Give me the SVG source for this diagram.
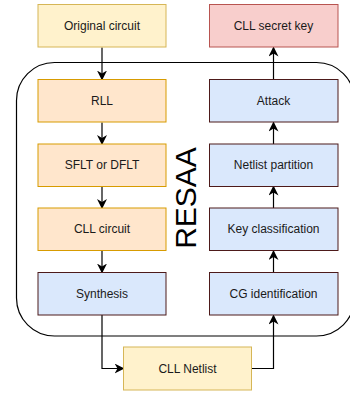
<svg xmlns="http://www.w3.org/2000/svg" width="350" height="394" viewBox="0 0 350 394">
  <defs>
    <marker id="arrow" viewBox="0 0 10 10" refX="9" refY="5" markerWidth="10" markerHeight="10" markerUnits="userSpaceOnUse" orient="auto">
      <path d="M0,0 L10,5 L0,10 L3,5 Z" fill="#000"/>
    </marker>
    <style>
      .lbl { font-family: "Liberation Sans", Arial, Helvetica, sans-serif; font-size: 12px; fill: #1a1a1a; text-anchor: middle; dominant-baseline: central; }
      .yellow { fill: #fff2cc; stroke: #d6b656; stroke-width: 1; }
      .orange { fill: #ffe6cc; stroke: #d79b00; stroke-width: 1; }
      .blue { fill: #dae8fc; stroke: #4d1a1a; stroke-width: 1; }
      .red { fill: #f8cecc; stroke: #b85450; stroke-width: 1; }
      .edge { fill: none; stroke: #000; stroke-width: 1.2; marker-end: url(#arrow); }
      .frame { fill: none; stroke: #000; stroke-width: 1.2; }
    </style>
  </defs>
  <rect width="350" height="394" fill="#fff"/>

  <!-- RESAA framework boundary -->
  <g id="resaa">
    <rect class="frame" x="16.5" y="62.5" width="338" height="273.5" rx="38" ry="38"/>
    <text transform="translate(196,198) rotate(-90)" font-family="'Liberation Sans', Arial, sans-serif" font-size="30" fill="#000" text-anchor="middle">RESAA</text>
  </g>

  <!-- connectors -->
  <g id="connectors">
    <line class="edge" x1="102" y1="47.5" x2="102" y2="79.5"/>
    <line class="edge" x1="102" y1="122.5" x2="102" y2="144"/>
    <line class="edge" x1="102" y1="186.5" x2="102" y2="208"/>
    <line class="edge" x1="102" y1="250.5" x2="102" y2="272.5"/>
    <polyline class="edge" points="102,315 102,368.5 123.5,368.5"/>
    <polyline class="edge" points="251.5,368.5 273.5,368.5 273.5,315.5"/>
    <line class="edge" x1="273.5" y1="272.5" x2="273.5" y2="251"/>
    <line class="edge" x1="273.5" y1="208" x2="273.5" y2="186.5"/>
    <line class="edge" x1="273.5" y1="144" x2="273.5" y2="122.5"/>
    <line class="edge" x1="273.5" y1="79.5" x2="273.5" y2="47.5"/>
  </g>

  <!-- left column -->
  <g id="original-circuit">
    <rect class="yellow" x="38" y="4.5" width="128" height="42.5"/>
    <text class="lbl" x="102" y="26">Original circuit</text>
  </g>
  <g id="rll">
    <rect class="orange" x="38" y="79.5" width="128" height="42.5"/>
    <text class="lbl" x="102" y="101">RLL</text>
  </g>
  <g id="sflt-dflt">
    <rect class="orange" x="38" y="144" width="128" height="42.5"/>
    <text class="lbl" x="102" y="165">SFLT or DFLT</text>
  </g>
  <g id="cll-circuit">
    <rect class="orange" x="38" y="208" width="128" height="42.5"/>
    <text class="lbl" x="102" y="229">CLL circuit</text>
  </g>
  <g id="synthesis">
    <rect class="blue" x="38" y="272.5" width="128" height="42.5"/>
    <text class="lbl" x="102" y="294">Synthesis</text>
  </g>

  <!-- bottom -->
  <g id="cll-netlist">
    <rect class="yellow" x="123.5" y="347" width="128" height="43"/>
    <text class="lbl" x="187.5" y="368.5">CLL Netlist</text>
  </g>

  <!-- right column -->
  <g id="cll-secret-key">
    <rect class="red" x="209.5" y="4.5" width="128.5" height="42.5"/>
    <text class="lbl" x="273.5" y="26">CLL secret key</text>
  </g>
  <g id="attack">
    <rect class="blue" x="209.5" y="79.5" width="128.5" height="42.5"/>
    <text class="lbl" x="273.5" y="101">Attack</text>
  </g>
  <g id="netlist-partition">
    <rect class="blue" x="209.5" y="144" width="128.5" height="42.5"/>
    <text class="lbl" x="273.5" y="165">Netlist partition</text>
  </g>
  <g id="key-classification">
    <rect class="blue" x="209.5" y="208" width="128.5" height="42.5"/>
    <text class="lbl" x="273.5" y="229">Key classification</text>
  </g>
  <g id="cg-identification">
    <rect class="blue" x="209.5" y="272.5" width="128.5" height="42.5"/>
    <text class="lbl" x="273.5" y="294">CG identification</text>
  </g>
</svg>
